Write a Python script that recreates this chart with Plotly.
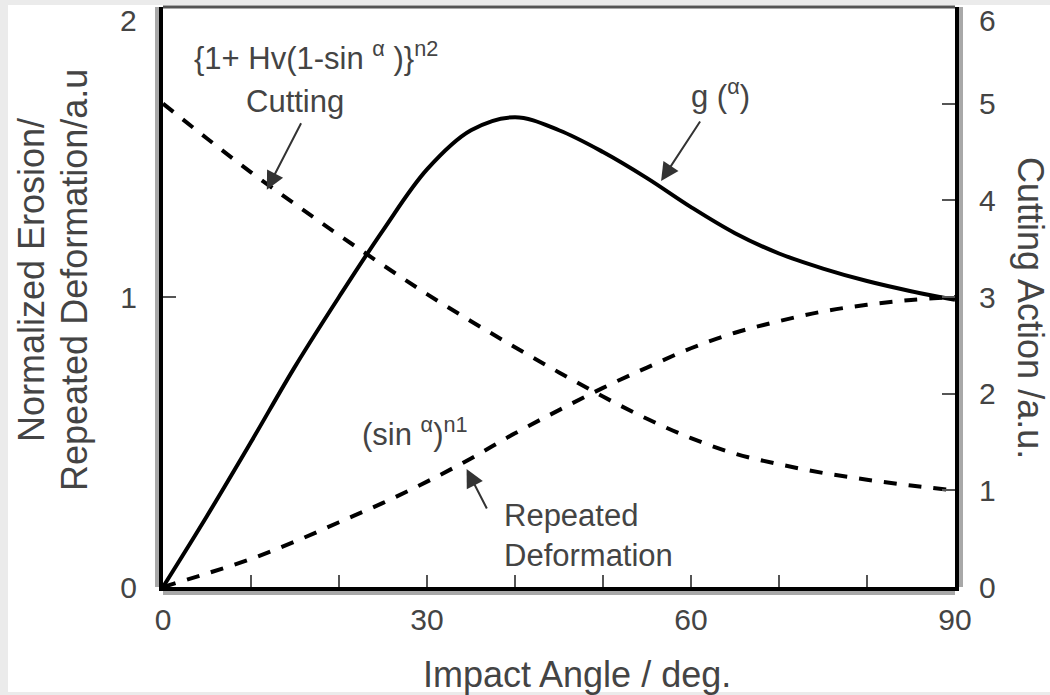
import plotly.graph_objects as go

# ---------------- data ----------------
angle = [0, 5, 10, 15, 20, 25, 30, 35, 40, 45, 50, 55, 60, 65, 70, 75, 80, 85, 90]
g_alpha = [0.0, 0.245, 0.50, 0.76, 1.00, 1.23, 1.44, 1.575, 1.62, 1.575, 1.50, 1.41,
           1.31, 1.22, 1.15, 1.098, 1.055, 1.02, 0.99]
cutting = [5.0, 4.64, 4.29, 3.96, 3.64, 3.33, 3.03, 2.75, 2.48, 2.22, 1.97, 1.74,
           1.54, 1.38, 1.27, 1.18, 1.11, 1.05, 1.00]
sin_n1 = [0.0, 0.14, 0.29, 0.47, 0.67, 0.87, 1.09, 1.33, 1.59, 1.83, 2.06, 2.27,
          2.47, 2.63, 2.75, 2.85, 2.92, 2.97, 3.0]

x_tick_vals = [0, 10, 20, 30, 40, 50, 60, 70, 80, 90]
x_tick_text = ["0", "", "", "30", "", "", "60", "", "", "90"]
left_tick_vals = [0, 1, 2]
left_tick_text = ["0", "1", "2"]
right_tick_vals = [0, 1, 2, 3, 4, 5, 6]
right_tick_text = ["0", "1", "2", "3", "4", "5", "6"]

FONT = "Liberation Sans, Arial, Helvetica, sans-serif"
TXT = "#444444"

fig = go.Figure()
fig.add_trace(go.Scatter(x=angle, y=g_alpha, mode="lines", yaxis="y",
                         line=dict(color="black", width=4, shape="spline", smoothing=1.0),
                         showlegend=False, hoverinfo="skip"))
fig.add_trace(go.Scatter(x=angle, y=cutting, mode="lines", yaxis="y2",
                         line=dict(color="black", width=4, dash="13px,12px", shape="spline", smoothing=1.0),
                         showlegend=False, hoverinfo="skip"))
fig.add_trace(go.Scatter(x=angle, y=sin_n1, mode="lines", yaxis="y2",
                         line=dict(color="black", width=4, dash="13px,12px", shape="spline", smoothing=1.0),
                         showlegend=False, hoverinfo="skip"))

tickfont = dict(family=FONT, size=30, color=TXT)

fig.update_layout(
    width=1050, height=695,
    margin=dict(l=163, r=95, t=7, b=108, autoexpand=False),
    paper_bgcolor="white", plot_bgcolor="white",
    xaxis=dict(range=[0, 90], tickvals=x_tick_vals, ticktext=x_tick_text,
               ticks="inside", ticklen=12, tickwidth=2, tickcolor="#555555",
               showline=True, linecolor="black", linewidth=4,
               showgrid=False, zeroline=False, tickfont=tickfont,
               ticklabelstandoff=3, automargin=False),
    yaxis=dict(range=[0, 2], tickvals=left_tick_vals,
               ticktext=[t if v != 2 else "" for v, t in zip(left_tick_vals, left_tick_text)],
               ticks="inside", ticklen=13, tickwidth=2, tickcolor="#555555",
               showline=True, linecolor="black", linewidth=4,
               showgrid=False, zeroline=False, tickfont=tickfont,
               ticklabelstandoff=16, automargin=False),
    yaxis2=dict(range=[0, 6], overlaying="y", side="right", tickvals=right_tick_vals,
                ticktext=[t if v != 6 else "" for v, t in zip(right_tick_vals, right_tick_text)],
                ticks="inside", ticklen=13, tickwidth=2, tickcolor="#555555",
                showline=True, linecolor="black", linewidth=4,
                showgrid=False, zeroline=False, tickfont=tickfont,
                ticklabelstandoff=14, automargin=False),
)

shapes = [
    # top frame line
    dict(type="line", xref="paper", yref="paper", x0=0, x1=1, y0=1, y1=1,
         line=dict(color="#555555", width=3)),
    # grey shadows of the axis lines
    dict(type="rect", xref="paper", yref="paper", xsizemode="pixel", xanchor=0,
         x0=-8, x1=-4, y0=0, y1=1, fillcolor="#a8a8a8", line=dict(width=0)),
    dict(type="rect", xref="paper", yref="paper", ysizemode="pixel", yanchor=0,
         y0=-4, y1=-8, x0=0, x1=1, fillcolor="#a8a8a8", line=dict(width=0)),
    dict(type="rect", xref="paper", yref="paper", xsizemode="pixel", xanchor=1,
         x0=4, x1=8, y0=0, y1=1, fillcolor="#a8a8a8", line=dict(width=0)),
    # light grey outer border strips
    dict(type="rect", xref="paper", yref="paper", xsizemode="pixel", xanchor=0,
         x0=-170, x1=-155, y0=-0.5, y1=1.5, fillcolor="#ebebeb", line=dict(width=0)),
    dict(type="rect", xref="paper", yref="paper", ysizemode="pixel", yanchor=1,
         y0=2, y1=20, x0=-0.5, x1=1.5, fillcolor="#ebebeb", line=dict(width=0)),
    dict(type="rect", xref="paper", yref="paper", ysizemode="pixel", yanchor=0,
         y0=-105, y1=-120, x0=-0.5, x1=1.5, fillcolor="#ebebeb", line=dict(width=0)),
]
fig.update_layout(shapes=shapes)

ann_font = dict(family=FONT, size=31, color=TXT)
title_font = dict(family=FONT, size=36, color=TXT)
arrow = dict(showarrow=True, arrowhead=2, arrowsize=1.8, arrowwidth=2, arrowcolor="#333333", text="")

annotations = [
    # top tick labels pushed down like the reference
    dict(text=left_tick_text[-1], xref="paper", x=0, xanchor="right", xshift=-24,
         yref="y", y=left_tick_vals[-1], yanchor="middle", yshift=-13, showarrow=False, font=tickfont),
    dict(text=right_tick_text[-1], xref="paper", x=1, xanchor="left", xshift=22,
         yref="y2", y=right_tick_vals[-1], yanchor="middle", yshift=-13, showarrow=False, font=tickfont),
    # axis titles
    dict(text="Impact Angle / deg.", xref="paper", x=0.523, yref="paper", y=-0.15,
         xanchor="center", yanchor="middle", showarrow=False, font=title_font),
    dict(text="Normalized Erosion/", xref="paper", x=(31 - 163) / 792, yref="paper", y=(587 - 280) / 580,
         xanchor="center", yanchor="middle", textangle=-90, showarrow=False, font=title_font),
    dict(text="Repeated Deformation/a.u", xref="paper", x=(74 - 163) / 792, yref="paper", y=(587 - 280) / 580,
         xanchor="center", yanchor="middle", textangle=-90, showarrow=False, font=title_font),
    dict(text="Cutting Action /a.u.", xref="paper", x=(1031 - 163) / 792, yref="paper", y=(587 - 308) / 580,
         xanchor="center", yanchor="middle", textangle=90, showarrow=False, font=title_font),
    # curve labels
    dict(text="{1+ Hv(1-sin <sup>α</sup> )}<sup>n2</sup>", xref="x", x=3.3, yref="y", y=1.83,
         xanchor="left", yanchor="middle", showarrow=False, font=ann_font),
    dict(text="Cutting", xref="x", x=15.0, yref="y", y=1.675,
         xanchor="center", yanchor="middle", showarrow=False, font=ann_font),
    dict(text="g (<sup>α</sup>)", xref="x", x=63.3, yref="y", y=1.70,
         xanchor="center", yanchor="middle", showarrow=False, font=ann_font),
    dict(text="(sin <sup>α</sup>)<sup>n1</sup>", xref="x", x=22.4, yref="y", y=0.534,
         xanchor="left", yanchor="middle", showarrow=False, font=ann_font),
    dict(text="Repeated<br>Deformation", xref="x", x=38.5, yref="y", y=0.176,
         xanchor="left", yanchor="middle", align="left", showarrow=False, font=ann_font),
    # arrows
    dict(xref="x", x=11.8, yref="y2", y=4.11, ax=35, ay=-68, **arrow),
    dict(xref="x", x=56.6, yref="y", y=1.40, ax=40, ay=-61, **arrow),
    dict(xref="x", x=34.5, yref="y2", y=1.22, ax=21, ay=41, **arrow),
]
fig.update_layout(annotations=annotations)

fig.write_html("out.html", config={"displayModeBar": False},
               post_script="document.body.style.margin='0px';")
